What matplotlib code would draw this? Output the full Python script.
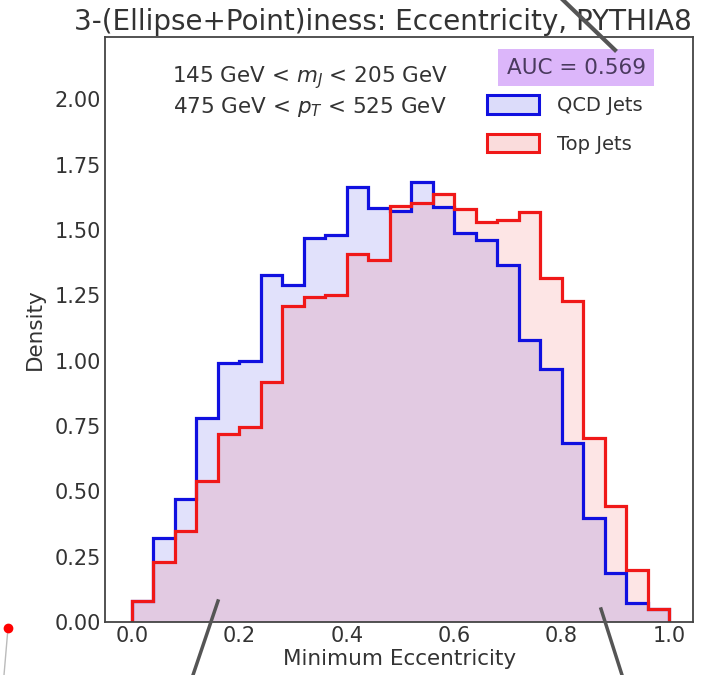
import numpy as np
import matplotlib
matplotlib.use("Agg")
import matplotlib.pyplot as plt
from matplotlib.patches import Patch
from matplotlib.lines import Line2D

plt.rcParams['font.family'] = ['DejaVu Sans']
plt.rcParams['mathtext.fontset'] = 'dejavusans'

bin_edges = np.linspace(0.0, 1.0, 26)
qcd_density = [0.08, 0.32, 0.47, 0.78, 0.99, 1.00, 1.33, 1.29, 1.47, 1.48,
               1.665, 1.585, 1.572, 1.685, 1.589, 1.49, 1.462, 1.368, 1.08, 0.968,
               0.685, 0.397, 0.189, 0.074, 0.05]
top_density = [0.08, 0.23, 0.35, 0.54, 0.72, 0.746, 0.918, 1.208, 1.245, 1.252,
               1.408, 1.386, 1.592, 1.604, 1.639, 1.581, 1.53, 1.538, 1.568, 1.317,
               1.227, 0.704, 0.444, 0.199, 0.05]
auc_value = 0.569
x_ticks = [0.0, 0.2, 0.4, 0.6, 0.8, 1.0]
y_ticks = [0.0, 0.25, 0.5, 0.75, 1.0, 1.25, 1.5, 1.75, 2.0]

blue = '#1010e0'
red = '#f01818'
txt = '#333333'

fig = plt.figure(figsize=(7.07, 6.75), dpi=100)
ax = fig.add_axes([0.1485, 0.0785, 0.832, 0.867])

centers = 0.5 * (bin_edges[:-1] + bin_edges[1:])
ax.hist(centers, bins=bin_edges, weights=qcd_density, histtype='stepfilled',
        color=blue, alpha=0.12, linewidth=0)
ax.hist(centers, bins=bin_edges, weights=top_density, histtype='stepfilled',
        color=red, alpha=0.11, linewidth=0)
ax.hist(centers, bins=bin_edges, weights=qcd_density, histtype='step',
        color=blue, linewidth=2.3)
ax.hist(centers, bins=bin_edges, weights=top_density, histtype='step',
        color=red, linewidth=2.3)

ax.set_xlim(-0.05, 1.045)
ax.set_ylim(0, 2.24)
ax.set_xticks(x_ticks)
ax.set_xticklabels([f"{v:.1f}" for v in x_ticks])
ax.set_yticks(y_ticks)
ax.set_yticklabels([f"{v:.2f}" for v in y_ticks])
ax.tick_params(length=0, labelsize=15, labelcolor=txt, pad=3)
for s in ax.spines.values():
    s.set_color('#444444')
    s.set_linewidth(1.3)

ax.set_xlabel("Minimum Eccentricity", fontsize=15.5, color=txt, labelpad=2)
ax.set_ylabel("Density", fontsize=15.5, color=txt, labelpad=7)
ax.set_title("3-(Ellipse+Point)iness: Eccentricity, PYTHIA8", fontsize=20,
             color=txt, pad=5, x=0.473)

ax.text(0.349, 0.906, "145 GeV < $m_J$ < 205 GeV\n475 GeV < $p_T$ < 525 GeV",
        transform=ax.transAxes, ha='center', va='center', fontsize=15.5,
        color=txt, linespacing=1.25)

ax.text(0.801, 0.947, f"AUC = {auc_value:.3f}", transform=ax.transAxes,
        ha='center', va='center', fontsize=15.5, color='#4a3a5e',
        bbox=dict(boxstyle='square,pad=0.4', facecolor='#dcb6fa', edgecolor='none'))

handles = [Patch(facecolor='#dcdcfa', edgecolor=blue, linewidth=2.2, label='QCD Jets'),
           Patch(facecolor='#fadcdc', edgecolor=red, linewidth=2.2, label='Top Jets')]
leg = ax.legend(handles=handles, loc='upper left', bbox_to_anchor=(0.649, 0.9),
                frameon=False, fontsize=14, handlelength=2.7, handleheight=1.1,
                labelspacing=0.95, handletextpad=0.9, borderpad=0, borderaxespad=0)
for t in leg.get_texts():
    t.set_color(txt)

# decorative overlay strokes present in the reference image
W, H = 707.0, 675.0
def fline(x0, y0, x1, y1, **kw):
    fig.add_artist(Line2D([x0 / W, x1 / W], [1 - y0 / H, 1 - y1 / H],
                          transform=fig.transFigure, **kw))
fline(563, 0, 615, 50, color='#555555', linewidth=3)
fline(218, 601, 193, 675, color='#555555', linewidth=2.5)
fline(601, 609, 622, 675, color='#555555', linewidth=2.5)
fline(8, 628, 4, 675, color='#bbbbbb', linewidth=1)
fig.add_artist(Line2D([8 / W], [1 - 628 / H], transform=fig.transFigure,
                      marker='o', markersize=6, color='#ff0000', linestyle='none'))

fig.savefig("out.png", dpi=100)
